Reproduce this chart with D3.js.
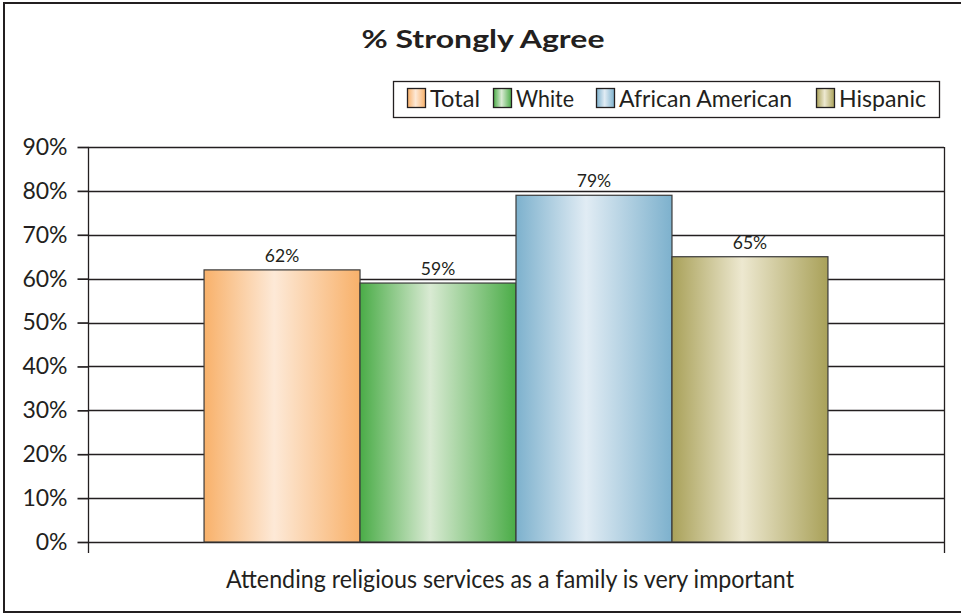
<!DOCTYPE html>
<html>
<head>
<meta charset="utf-8">
<script src="https://cdn.jsdelivr.net/npm/d3@7"></script>
<style>
  html, body { margin: 0; padding: 0; background: #fff; }
  svg { display: block; }
  text { font-family: Lato, "Open Sans", sans-serif; fill: #231f20; }
</style>
</head>
<body>
<svg id="chart" width="961" height="614"></svg>
<script>
// Chart data
const title = "% Strongly Agree";
const category = "Attending religious services as a family is very important";
const seriesNames = ["Total", "White", "African American", "Hispanic"];
const seriesValues = [62, 59, 79, 65];
const yTicks = [0, 10, 20, 30, 40, 50, 60, 70, 80, 90];

// Gradient colours per series: [edge, centre]
const seriesColors = [
  ["#f8b16a", "#fde9d7"],
  ["#4aac47", "#d9ead3"],
  ["#7db1cd", "#e1ecf4"],
  ["#a9a159", "#ede8d0"]
];

const svg = d3.select("#chart");
const W = 961;
const plot = { left: 88, right: 944, top: 147, bottom: 542 };

// Outer frame
svg.append("rect")
  .attr("x", 4).attr("y", 3)
  .attr("width", W + 10).attr("height", 609)
  .attr("fill", "#fff").attr("stroke", "#231f20").attr("stroke-width", 2);

const y = d3.scaleLinear().domain([0, 90]).range([plot.bottom, plot.top]);
const x0 = d3.scaleBand().domain([category]).range([plot.left, plot.right]).paddingInner(0).paddingOuter(0.186);
const x1 = d3.scaleBand().domain(seriesNames).range([x0(category), x0(category) + x0.bandwidth()]).padding(0);

// Gradients
const defs = svg.append("defs");
seriesColors.forEach((c, i) => {
  const g = defs.append("linearGradient")
    .attr("id", "grad" + i)
    .attr("x1", "0%").attr("x2", "100%").attr("y1", "0%").attr("y2", "0%");
  g.append("stop").attr("offset", "0%").attr("stop-color", c[0]);
  g.append("stop").attr("offset", "45%").attr("stop-color", c[1]);
  g.append("stop").attr("offset", "100%").attr("stop-color", c[0]);
});

// Horizontal gridlines
svg.append("g")
  .selectAll("line")
  .data(yTicks)
  .join("line")
  .attr("x1", plot.left).attr("x2", plot.right)
  .attr("y1", d => Math.round(y(d)) + 0.5).attr("y2", d => Math.round(y(d)) + 0.5)
  .attr("stroke", "#231f20").attr("stroke-width", 1.7);

// Y axis
const yAxis = d3.axisLeft(y)
  .tickValues(yTicks)
  .tickFormat(d => d + "%")
  .tickSize(11)
  .tickPadding(10);
const gy = svg.append("g")
  .attr("transform", `translate(${plot.left + 0.5},0)`)
  .call(yAxis);
gy.select(".domain").remove();
gy.selectAll(".tick line").attr("stroke", "#231f20").attr("stroke-width", 1.7);
gy.selectAll(".tick text")
  .attr("font-size", 23)
  .attr("font-family", "Lato, sans-serif")
  .attr("fill", "#231f20");

// Vertical axis lines (left and right, extending below the baseline as category ticks)
[plot.left, plot.right].forEach(px => {
  svg.append("line")
    .attr("x1", px + 0.5).attr("x2", px + 0.5)
    .attr("y1", plot.top).attr("y2", plot.bottom + 11)
    .attr("stroke", "#231f20").attr("stroke-width", 1.3);
});

// Bars
svg.append("g")
  .selectAll("rect")
  .data(seriesValues)
  .join("rect")
  .attr("x", (d, i) => x1(seriesNames[i]))
  .attr("y", d => y(d))
  .attr("width", x1.bandwidth())
  .attr("height", d => plot.bottom - y(d))
  .attr("fill", (d, i) => `url(#grad${i})`)
  .attr("stroke", "#3a3a3a").attr("stroke-width", 1.2);

// Value labels
svg.append("g")
  .selectAll("text")
  .data(seriesValues)
  .join("text")
  .attr("x", (d, i) => x1(seriesNames[i]) + x1.bandwidth() / 2)
  .attr("y", d => y(d) - 8)
  .attr("text-anchor", "middle")
  .attr("font-size", 17.5)
  .text(d => d + "%");

// Category label
svg.append("text")
  .attr("x", x0(category) + x0.bandwidth() / 2 - 6)
  .attr("y", 588)
  .attr("text-anchor", "middle")
  .attr("font-size", 25)
  .attr("textLength", 568)
  .attr("lengthAdjust", "spacingAndGlyphs")
  .text(category);

// Title
svg.append("text")
  .attr("x", 483)
  .attr("y", 48)
  .attr("text-anchor", "middle")
  .attr("font-family", "'DejaVu Sans', sans-serif")
  .attr("font-size", 25.5)
  .attr("font-weight", "bold")
  .attr("textLength", 243)
  .attr("lengthAdjust", "spacingAndGlyphs")
  .text(title);

// Legend
const legend = svg.append("g");
legend.append("rect")
  .attr("x", 393.5).attr("y", 81.5)
  .attr("width", 546).attr("height", 36)
  .attr("fill", "#fff").attr("stroke", "#231f20").attr("stroke-width", 1.3);

const legendX = [407, 493, 596, 816];
const legendTextWidth = [50, 58, 173, 87];
seriesNames.forEach((name, i) => {
  const item = legend.append("g").attr("transform", `translate(${legendX[i]},88)`);
  item.append("rect")
    .attr("x", 0.5).attr("y", 0.5)
    .attr("width", 18).attr("height", 19)
    .attr("fill", `url(#grad${i})`)
    .attr("stroke", "#231f20").attr("stroke-width", 1.3);
  item.append("text")
    .attr("x", 23).attr("y", 19)
    .attr("font-size", 24)
    .attr("textLength", legendTextWidth[i])
    .attr("lengthAdjust", "spacingAndGlyphs")
    .text(name);
});
</script>
</body>
</html>
